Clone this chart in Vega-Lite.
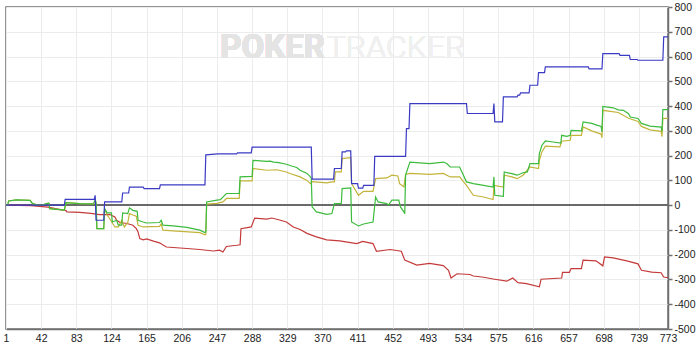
{
"$schema":"https://vega.github.io/schema/vega-lite/v6.json",
"width":662,"height":322,
"autosize":{"type":"none"},
"padding":{"left":6,"top":7,"right":32,"bottom":21},
"background":"white",
"config":{"view":{"stroke":"#707070","strokeWidth":1.5},
"axis":{"grid":true,"gridColor":"#ececec","gridWidth":1,"domainColor":"#707070","domainWidth":1.5,"labelFont":"Liberation Sans","labelFontSize":10.5,"labelColor":"#222222","title":null,"labelFlush":false,"labelOverlap":false,"labelBound":false}},
"datasets":{
"showdown":[{"hand":1,"won":0},{"hand":69,"won":0},{"hand":70,"won":23},{"hand":104,"won":23},{"hand":105,"won":40},{"hand":106,"won":-61},{"hand":115,"won":-61},{"hand":116,"won":13},{"hand":136,"won":13},{"hand":137,"won":49},{"hand":144,"won":49},{"hand":145,"won":73},{"hand":161,"won":73},{"hand":162,"won":67},{"hand":180,"won":67},{"hand":181,"won":82},{"hand":233,"won":82},{"hand":234,"won":203},{"hand":248,"won":207},{"hand":270,"won":207},{"hand":271,"won":211},{"hand":287,"won":211},{"hand":288,"won":234},{"hand":357,"won":234},{"hand":358,"won":105},{"hand":383,"won":105},{"hand":384,"won":148},{"hand":392,"won":148},{"hand":393,"won":215},{"hand":397,"won":215},{"hand":398,"won":219},{"hand":403,"won":219},{"hand":404,"won":87},{"hand":411,"won":87},{"hand":412,"won":69},{"hand":417,"won":69},{"hand":418,"won":80},{"hand":430,"won":80},{"hand":431,"won":197},{"hand":467,"won":197},{"hand":468,"won":309},{"hand":471,"won":309},{"hand":472,"won":410},{"hand":538,"won":410},{"hand":539,"won":370},{"hand":569,"won":370},{"hand":570,"won":410},{"hand":571,"won":336},{"hand":580,"won":336},{"hand":581,"won":437},{"hand":597,"won":437},{"hand":598,"won":444},{"hand":600,"won":444},{"hand":601,"won":453},{"hand":611,"won":453},{"hand":612,"won":484},{"hand":621,"won":484},{"hand":622,"won":535},{"hand":629,"won":535},{"hand":630,"won":558},{"hand":680,"won":558},{"hand":681,"won":550},{"hand":696,"won":550},{"hand":697,"won":612},{"hand":716,"won":612},{"hand":717,"won":605},{"hand":728,"won":605},{"hand":729,"won":588},{"hand":737,"won":588},{"hand":738,"won":585},{"hand":767,"won":585},{"hand":768,"won":679},{"hand":773,"won":679}],
"nonshowdown":[{"hand":1,"won":0},{"hand":30,"won":-2},{"hand":50,"won":-8},{"hand":60,"won":-15},{"hand":71,"won":-22},{"hand":72,"won":-27},{"hand":87,"won":-29},{"hand":100,"won":-33},{"hand":110,"won":-38},{"hand":122,"won":-38},{"hand":128,"won":-48},{"hand":130,"won":-61},{"hand":134,"won":-70},{"hand":142,"won":-74},{"hand":149,"won":-81},{"hand":153,"won":-95},{"hand":155,"won":-108},{"hand":157,"won":-135},{"hand":161,"won":-140},{"hand":165,"won":-136},{"hand":173,"won":-145},{"hand":180,"won":-152},{"hand":188,"won":-169},{"hand":212,"won":-175},{"hand":227,"won":-179},{"hand":243,"won":-185},{"hand":250,"won":-182},{"hand":254,"won":-189},{"hand":258,"won":-167},{"hand":270,"won":-162},{"hand":274,"won":-160},{"hand":275,"won":-95},{"hand":287,"won":-88},{"hand":291,"won":-52},{"hand":305,"won":-56},{"hand":311,"won":-52},{"hand":320,"won":-60},{"hand":328,"won":-68},{"hand":336,"won":-88},{"hand":344,"won":-98},{"hand":352,"won":-114},{"hand":363,"won":-128},{"hand":375,"won":-140},{"hand":390,"won":-144},{"hand":410,"won":-155},{"hand":417,"won":-146},{"hand":429,"won":-155},{"hand":433,"won":-186},{"hand":449,"won":-179},{"hand":462,"won":-186},{"hand":466,"won":-222},{"hand":480,"won":-242},{"hand":495,"won":-235},{"hand":511,"won":-244},{"hand":517,"won":-263},{"hand":520,"won":-294},{"hand":527,"won":-277},{"hand":542,"won":-280},{"hand":546,"won":-286},{"hand":558,"won":-291},{"hand":569,"won":-298},{"hand":585,"won":-307},{"hand":592,"won":-294},{"hand":598,"won":-313},{"hand":608,"won":-317},{"hand":623,"won":-330},{"hand":625,"won":-299},{"hand":649,"won":-294},{"hand":650,"won":-271},{"hand":658,"won":-271},{"hand":660,"won":-256},{"hand":672,"won":-256},{"hand":674,"won":-222},{"hand":689,"won":-225},{"hand":697,"won":-245},{"hand":699,"won":-209},{"hand":709,"won":-213},{"hand":725,"won":-225},{"hand":738,"won":-237},{"hand":742,"won":-263},{"hand":754,"won":-270},{"hand":765,"won":-273},{"hand":768,"won":-290},{"hand":773,"won":-293}],
"allinev":[{"hand":1,"won":0},{"hand":3,"won":0},{"hand":4,"won":17},{"hand":13,"won":21},{"hand":29,"won":19},{"hand":32,"won":6},{"hand":38,"won":0},{"hand":44,"won":0},{"hand":48,"won":6},{"hand":51,"won":8},{"hand":52,"won":-14},{"hand":69,"won":-20},{"hand":71,"won":10},{"hand":87,"won":6},{"hand":103,"won":5},{"hand":105,"won":20},{"hand":106,"won":10},{"hand":107,"won":-95},{"hand":115,"won":-95},{"hand":116,"won":-14},{"hand":119,"won":-40},{"hand":122,"won":-55},{"hand":128,"won":-88},{"hand":132,"won":-88},{"hand":136,"won":-61},{"hand":139,"won":-88},{"hand":143,"won":-70},{"hand":145,"won":-34},{"hand":149,"won":-40},{"hand":153,"won":-45},{"hand":155,"won":-81},{"hand":161,"won":-88},{"hand":180,"won":-86},{"hand":182,"won":-76},{"hand":184,"won":-101},{"hand":196,"won":-104},{"hand":227,"won":-111},{"hand":233,"won":-120},{"hand":234,"won":-118},{"hand":235,"won":4},{"hand":247,"won":7},{"hand":254,"won":13},{"hand":258,"won":27},{"hand":273,"won":27},{"hand":274,"won":98},{"hand":288,"won":98},{"hand":289,"won":148},{"hand":305,"won":141},{"hand":317,"won":143},{"hand":328,"won":134},{"hand":332,"won":128},{"hand":344,"won":114},{"hand":352,"won":100},{"hand":356,"won":87},{"hand":358,"won":95},{"hand":375,"won":90},{"hand":381,"won":94},{"hand":384,"won":94},{"hand":385,"won":134},{"hand":392,"won":134},{"hand":393,"won":188},{"hand":403,"won":192},{"hand":404,"won":87},{"hand":412,"won":40},{"hand":418,"won":56},{"hand":429,"won":56},{"hand":432,"won":107},{"hand":445,"won":110},{"hand":451,"won":121},{"hand":458,"won":118},{"hand":460,"won":87},{"hand":465,"won":74},{"hand":467,"won":124},{"hand":472,"won":128},{"hand":495,"won":124},{"hand":511,"won":128},{"hand":519,"won":114},{"hand":530,"won":114},{"hand":538,"won":80},{"hand":546,"won":40},{"hand":558,"won":33},{"hand":569,"won":23},{"hand":570,"won":80},{"hand":581,"won":73},{"hand":582,"won":121},{"hand":591,"won":114},{"hand":597,"won":107},{"hand":604,"won":121},{"hand":612,"won":154},{"hand":622,"won":148},{"hand":623,"won":181},{"hand":626,"won":215},{"hand":630,"won":238},{"hand":647,"won":235},{"hand":649,"won":258},{"hand":659,"won":262},{"hand":660,"won":282},{"hand":672,"won":282},{"hand":674,"won":316},{"hand":684,"won":300},{"hand":695,"won":287},{"hand":696,"won":272},{"hand":697,"won":383},{"hand":715,"won":374},{"hand":727,"won":351},{"hand":738,"won":338},{"hand":742,"won":318},{"hand":752,"won":304},{"hand":765,"won":298},{"hand":766,"won":277},{"hand":767,"won":350},{"hand":773,"won":350}],
"netwon":[{"hand":1,"won":0},{"hand":3,"won":0},{"hand":4,"won":17},{"hand":13,"won":21},{"hand":29,"won":19},{"hand":32,"won":6},{"hand":38,"won":0},{"hand":44,"won":0},{"hand":48,"won":6},{"hand":51,"won":8},{"hand":52,"won":-14},{"hand":69,"won":-20},{"hand":71,"won":10},{"hand":87,"won":6},{"hand":103,"won":5},{"hand":105,"won":20},{"hand":106,"won":10},{"hand":107,"won":-95},{"hand":115,"won":-95},{"hand":116,"won":-14},{"hand":119,"won":-31},{"hand":124,"won":-31},{"hand":125,"won":-68},{"hand":130,"won":-61},{"hand":132,"won":-81},{"hand":136,"won":-81},{"hand":137,"won":-31},{"hand":143,"won":-34},{"hand":145,"won":-11},{"hand":149,"won":-21},{"hand":154,"won":-25},{"hand":155,"won":-61},{"hand":161,"won":-68},{"hand":165,"won":-72},{"hand":180,"won":-70},{"hand":182,"won":-61},{"hand":184,"won":-81},{"hand":196,"won":-84},{"hand":212,"won":-90},{"hand":227,"won":-101},{"hand":233,"won":-111},{"hand":234,"won":-108},{"hand":235,"won":13},{"hand":247,"won":20},{"hand":251,"won":22},{"hand":258,"won":47},{"hand":273,"won":47},{"hand":274,"won":114},{"hand":288,"won":116},{"hand":289,"won":181},{"hand":305,"won":177},{"hand":309,"won":178},{"hand":313,"won":174},{"hand":319,"won":172},{"hand":328,"won":165},{"hand":334,"won":158},{"hand":340,"won":152},{"hand":344,"won":141},{"hand":352,"won":128},{"hand":356,"won":114},{"hand":357,"won":110},{"hand":358,"won":-7},{"hand":363,"won":-27},{"hand":375,"won":-37},{"hand":381,"won":-34},{"hand":384,"won":6},{"hand":392,"won":6},{"hand":393,"won":67},{"hand":403,"won":70},{"hand":404,"won":-68},{"hand":412,"won":-84},{"hand":418,"won":-76},{"hand":429,"won":-68},{"hand":432,"won":33},{"hand":435,"won":13},{"hand":445,"won":6},{"hand":447,"won":0},{"hand":451,"won":20},{"hand":459,"won":20},{"hand":461,"won":-7},{"hand":465,"won":-27},{"hand":466,"won":-35},{"hand":467,"won":121},{"hand":472,"won":174},{"hand":495,"won":168},{"hand":511,"won":174},{"hand":515,"won":168},{"hand":519,"won":154},{"hand":530,"won":154},{"hand":538,"won":94},{"hand":546,"won":87},{"hand":558,"won":80},{"hand":569,"won":73},{"hand":570,"won":114},{"hand":571,"won":40},{"hand":581,"won":36},{"hand":582,"won":134},{"hand":591,"won":127},{"hand":597,"won":121},{"hand":604,"won":131},{"hand":609,"won":134},{"hand":612,"won":168},{"hand":622,"won":168},{"hand":623,"won":208},{"hand":626,"won":242},{"hand":630,"won":259},{"hand":639,"won":255},{"hand":648,"won":251},{"hand":649,"won":282},{"hand":655,"won":278},{"hand":659,"won":282},{"hand":660,"won":302},{"hand":672,"won":300},{"hand":674,"won":336},{"hand":684,"won":330},{"hand":690,"won":323},{"hand":695,"won":318},{"hand":696,"won":296},{"hand":697,"won":399},{"hand":709,"won":393},{"hand":715,"won":385},{"hand":721,"won":383},{"hand":727,"won":369},{"hand":729,"won":356},{"hand":738,"won":350},{"hand":742,"won":330},{"hand":752,"won":319},{"hand":765,"won":315},{"hand":766,"won":298},{"hand":767,"won":386},{"hand":773,"won":386}]
},
"data":{"name":"netwon"},
"layer":[
{"mark":{"type":"text","font":"Roboto","fontWeight":"bold","fontSize":33,"color":"#e4e4e4","align":"right","baseline":"alphabetic"},
 "encoding":{"x":{"datum":373,"type":"quantitative","scale":{"domain":[1,773],"nice":false,"zero":false},"axis":{"orient":"bottom","values":[1,42,83,124,165,206,247,288,329,370,411,452,493,534,575,616,657,698,739,773],"tickCount":40,"ticks":false,"labelPadding":4,"labelOverlap":false,"labelSeparation":0}},
 "y":{"datum":595,"type":"quantitative","scale":{"domain":[-500,800],"nice":false,"zero":false},"axis":{"orient":"right","values":[-500,-400,-300,-200,-100,0,100,200,300,400,500,600,700,800],"tickCount":40,"tickSize":4,"tickColor":"#707070","tickWidth":1.5,"labelPadding":2,"labelOverlap":false,"labelSeparation":0,"labelExpr":"'' + datum.value"}},
 "text":{"value":"POKER"}}},
{"mark":{"type":"text","font":"Roboto","fontWeight":300,"fontSize":32,"color":"#f0f0f0","align":"left","baseline":"alphabetic"},
 "encoding":{"x":{"datum":375,"type":"quantitative"},"y":{"datum":595,"type":"quantitative"},"text":{"value":"TRACKER"}}},
{"mark":{"type":"rule","color":"#6a6a6a","strokeWidth":1.5},"encoding":{"y":{"datum":0,"type":"quantitative"}}},
{"data":{"name":"nonshowdown"},"mark":{"type":"line","color":"#c43a3a","strokeWidth":1.2},"encoding":{"x":{"field":"hand","type":"quantitative"},"y":{"field":"won","type":"quantitative"}}},
{"data":{"name":"allinev"},"mark":{"type":"line","color":"#c2b43a","strokeWidth":1.2},"encoding":{"x":{"field":"hand","type":"quantitative"},"y":{"field":"won","type":"quantitative"}}},
{"data":{"name":"netwon"},"mark":{"type":"line","color":"#3cbb3c","strokeWidth":1.2},"encoding":{"x":{"field":"hand","type":"quantitative"},"y":{"field":"won","type":"quantitative"}}},
{"data":{"name":"showdown"},"mark":{"type":"line","color":"#3a3ac4","strokeWidth":1.2},"encoding":{"x":{"field":"hand","type":"quantitative"},"y":{"field":"won","type":"quantitative"}}}
]
}
